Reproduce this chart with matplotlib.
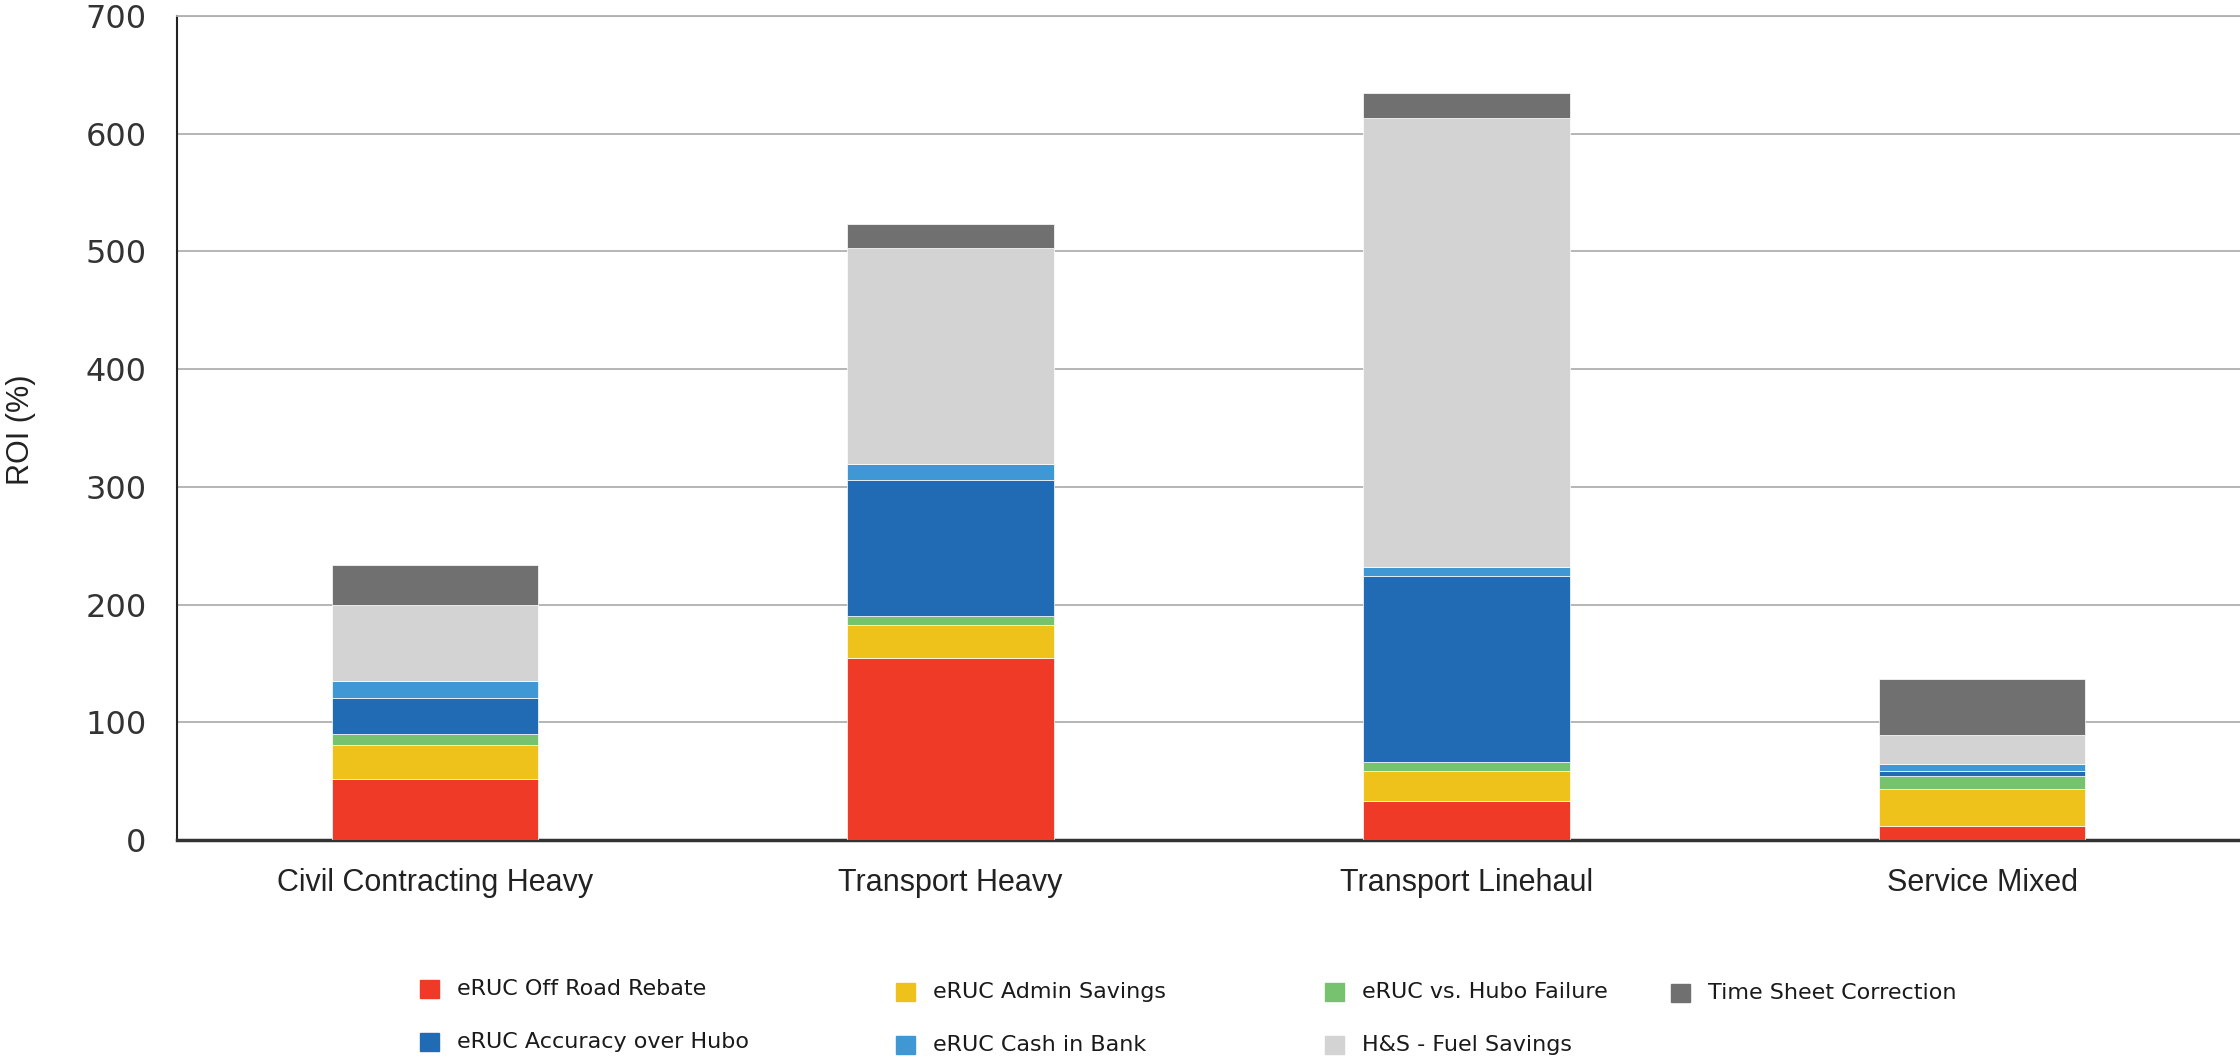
import numpy as np
import matplotlib
matplotlib.use("Agg")
import matplotlib.pyplot as plt
from matplotlib.patches import Rectangle

plt.rcParams['font.family'] = ['Liberation Sans', 'DejaVu Sans']

categories = ['Civil Contracting Heavy', 'Transport Heavy', 'Transport Linehaul', 'Service Mixed']

off_road_rebate = [52, 155, 33, 12]
admin_savings = [29, 28, 26, 31]
hubo_failure = [9, 7, 7.5, 11]
accuracy_over_hubo = [31, 116, 158, 5]
cash_in_bank = [14, 13, 7, 5.5]
fuel_savings = [65, 184, 382, 25]
time_sheet = [34, 20, 21, 47]

series = [
    ('eRUC Off Road Rebate', off_road_rebate, '#EE3A26'),
    ('eRUC Admin Savings', admin_savings, '#EEC21A'),
    ('eRUC vs. Hubo Failure', hubo_failure, '#77C26E'),
    ('eRUC Accuracy over Hubo', accuracy_over_hubo, '#216AB4'),
    ('eRUC Cash in Bank', cash_in_bank, '#3F97D3'),
    ('H&S - Fuel Savings', fuel_savings, '#D3D3D3'),
    ('Time Sheet Correction', time_sheet, '#707070'),
]

fig = plt.figure(figsize=(22.4, 10.6), dpi=100)
ax = fig.add_axes([0.079, 0.2075, 0.921, 0.7775])

x = np.arange(len(categories))
bottom = np.zeros(len(categories))
for name, vals, col in series:
    ax.bar(x, vals, 0.40, bottom=bottom, color=col, edgecolor='white',
           linewidth=0.5, label=name, zorder=3)
    bottom += np.array(vals)

ax.set_xlim(-0.5, 3.5)
ax.set_ylim(0, 700)
ax.set_yticks(range(0, 701, 100))
ax.set_yticklabels([str(v) for v in range(0, 701, 100)],
                   family='DejaVu Sans', fontsize=23, color='#333333')
ax.set_xticks(x)
ax.set_xticklabels(categories, fontsize=22, color='#222222')
ax.tick_params(axis='y', length=0, pad=22)
ax.tick_params(axis='x', length=0, pad=20)
ax.grid(axis='y', color='#B0B0B0', linewidth=1.3, zorder=0)

for s in ['right']:
    ax.spines[s].set_visible(False)
ax.spines['top'].set_color('#B0B0B0')
ax.spines['top'].set_linewidth(1.3)
ax.spines['left'].set_color('#222222')
ax.spines['left'].set_linewidth(1.5)
ax.spines['bottom'].set_color('#333333')
ax.spines['bottom'].set_linewidth(2.5)

fig.text(0.0095, 0.595, 'ROI (%)', rotation=90, fontsize=22, color='#222222',
         ha='center', va='center')

# legend laid out by hand in four uneven columns
leg_cols = [0.1875, 0.4, 0.5915, 0.746]
leg_rows = [0.067, 0.017]
col_drop = [0.0, 0.003, 0.003, 0.004]
order = [0, 3, 1, 4, 2, 5, 6]
for i, idx in enumerate(order):
    name, _, col = series[idx]
    c = i // 2
    cx = leg_cols[c]
    cy = leg_rows[i % 2] - col_drop[c]
    fig.add_artist(Rectangle((cx, cy - 0.0085), 0.0085, 0.017, color=col,
                             transform=fig.transFigure))
    fig.text(cx + 0.0165, cy, name, family='DejaVu Sans', fontsize=16,
             color='#1a1a1a', ha='left', va='center')

fig.savefig('out.png', dpi=100)
